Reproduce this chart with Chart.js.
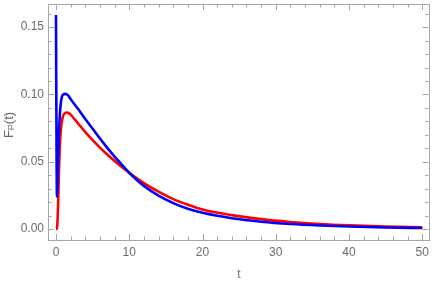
<!DOCTYPE html>
<html>
<head>
<meta charset="utf-8">
<script src="https://cdn.jsdelivr.net/npm/chart.js@4"></script>
<style>
  html, body { margin: 0; padding: 0; background: #fff; }
  #wrap { width: 436px; height: 283px; }
</style>
</head>
<body>
<div id="wrap"><canvas id="fpChart" width="436" height="283"></canvas></div>
<script>
const tValues = [0, 0.04, 0.08, 0.14, 0.2, 0.3, 0.4, 0.5, 0.65, 0.8, 1.0, 1.25, 1.45, 1.7, 2, 3, 4, 5, 6, 7, 8, 9, 10, 11, 12, 14, 16, 18, 20, 24, 28, 32, 36, 40, 45, 50];
const redValues = [0, 0, 0, 0.001, 0.005, 0.02, 0.042, 0.058, 0.073, 0.080, 0.0845, 0.0862, 0.0866, 0.0862, 0.085, 0.0785, 0.0720, 0.0660, 0.0605, 0.0553, 0.0505, 0.0460, 0.0418, 0.0378, 0.0341, 0.0277, 0.0222, 0.0180, 0.0145, 0.0103, 0.0073, 0.0052, 0.0037, 0.0027, 0.0018, 0.0012];
const blueValues = [0.159, 0.105, 0.055, 0.024, 0.032, 0.055, 0.072, 0.083, 0.093, 0.098, 0.1000, 0.1004, 0.1001, 0.0990, 0.0965, 0.0893, 0.0818, 0.0745, 0.0672, 0.0603, 0.0538, 0.0477, 0.0417, 0.0366, 0.0320, 0.0247, 0.0192, 0.0150, 0.0120, 0.0080, 0.0054, 0.0037, 0.0026, 0.0018, 0.0011, 0.0007];

const xTicks = [0, 10, 20, 30, 40, 50];
const yTicks = [0.00, 0.05, 0.10, 0.15];

const toPoints = (ys) => tValues.map((t, i) => ({ x: t, y: ys[i] }));

const frameColor = '#a6a6a6';
const textColor = '#6b6b6b';

// Mathematica-style frame: box with inward ticks on all sides
const framePlugin = {
  id: 'frame',
  afterDraw(chart) {
    const ctx = chart.ctx;
    const { left, right, top, bottom } = chart.chartArea;
    const xs = chart.scales.x, ys = chart.scales.y;
    ctx.save();
    ctx.strokeStyle = frameColor;
    ctx.lineWidth = 1;
    ctx.strokeRect(Math.round(left) + 0.5, Math.round(top) + 0.5, Math.round(right - left), Math.round(bottom - top));

    const tick = (x1, y1, x2, y2) => {
      ctx.beginPath();
      ctx.moveTo(x1, y1);
      ctx.lineTo(x2, y2);
      ctx.stroke();
    };
    // x ticks, minor every 2
    for (let v = 0; v <= 50; v += 2) {
      const px = Math.round(xs.getPixelForValue(v)) + 0.5;
      const len = v % 10 === 0 ? 6 : 3.5;
      tick(px, bottom, px, bottom - len);
      tick(px, top, px, top + len);
    }
    // y ticks, minor every 0.01
    for (let i = 0; i <= 16; i++) {
      const v = i * 0.01;
      const py = Math.round(ys.getPixelForValue(v)) + 0.5;
      const len = i % 5 === 0 ? 6 : 3.5;
      tick(left, py, left + len, py);
      tick(right, py, right - len, py);
    }

    ctx.fillStyle = textColor;
    ctx.font = '12px "Liberation Sans", Arial, sans-serif';
    ctx.textAlign = 'center';
    ctx.textBaseline = 'middle';
    xTicks.forEach(v => ctx.fillText(String(v), xs.getPixelForValue(v), 253));
    ctx.textAlign = 'right';
    yTicks.forEach(v => ctx.fillText(v.toFixed(2), 44, ys.getPixelForValue(v)));

    // axis titles
    ctx.textAlign = 'center';
    ctx.fillText('t', 239, 275);

    ctx.translate(9, 125);
    ctx.rotate(-Math.PI / 2);
    ctx.textAlign = 'left';
    const f1 = '13px "Liberation Sans", Arial, sans-serif';
    const f2 = '9px "Liberation Sans", Arial, sans-serif';
    ctx.font = f1;
    const wF = ctx.measureText('F').width;
    ctx.font = f2;
    const wP = ctx.measureText('P').width;
    ctx.font = f1;
    const wT = ctx.measureText('(t)').width;
    let x0 = -(wF + wP + wT) / 2;
    ctx.fillText('F', x0, 0);
    ctx.font = f2;
    ctx.fillText('P', x0 + wF, 3);
    ctx.font = f1;
    ctx.fillText('(t)', x0 + wF + wP, 0);
    ctx.restore();
  }
};

new Chart(document.getElementById('fpChart').getContext('2d'), {
  type: 'line',
  data: {
    datasets: [
      {
        data: toPoints(blueValues),
        borderColor: '#0000ff',
        borderWidth: 2.6,
        pointRadius: 0,
        cubicInterpolationMode: 'monotone',
        fill: false
      },
      {
        data: toPoints(redValues),
        borderColor: '#ff0000',
        borderWidth: 2.6,
        pointRadius: 0,
        cubicInterpolationMode: 'monotone',
        fill: false
      }
    ]
  },
  options: {
    responsive: false,
    animation: false,
    events: [],
    layout: { padding: { left: 48, right: 7.5, top: 4, bottom: 43 } },
    plugins: {
      legend: { display: false },
      tooltip: { enabled: false }
    },
    scales: {
      x: { type: 'linear', display: false, min: -1.09, max: 50.85 },
      y: { type: 'linear', display: false, min: -0.0082, max: 0.1672 }
    }
  },
  plugins: [framePlugin]
});
</script>
</body>
</html>
